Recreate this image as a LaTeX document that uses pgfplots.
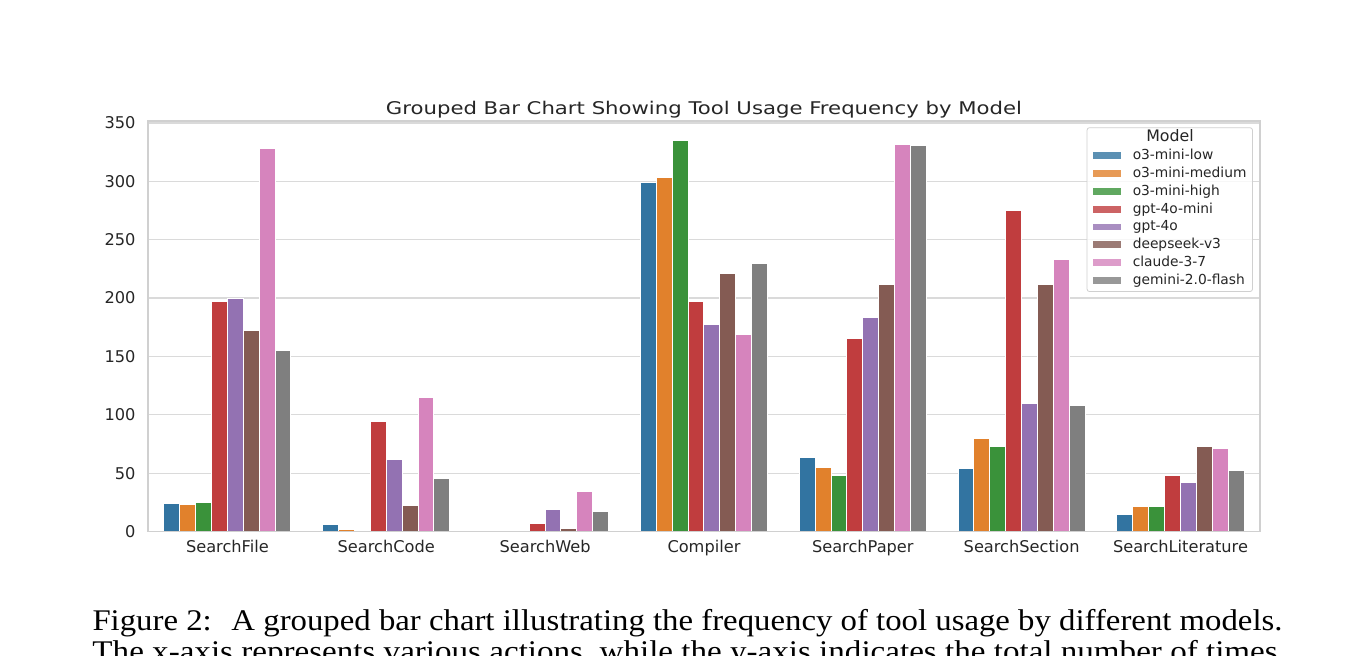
\documentclass[border=0pt]{standalone}
\usepackage{pgfplots}
\pgfplotsset{compat=1.18}
\usepackage{pgfplotstable}
\usepackage{fontspec}
\usepackage{graphicx}
\newfontfamily\dejavu{DejaVu Sans}
\newfontfamily\capfont{Liberation Serif}

\definecolor{cblue}{RGB}{50,116,161}
\definecolor{corange}{RGB}{225,129,44}
\definecolor{cgreen}{RGB}{58,146,58}
\definecolor{cred}{RGB}{192,61,62}
\definecolor{cpurple}{RGB}{147,114,178}
\definecolor{cbrown}{RGB}{132,91,83}
\definecolor{cpink}{RGB}{214,132,189}
\definecolor{cgray}{RGB}{127,127,127}
\definecolor{framegray}{RGB}{208,208,208}
\definecolor{gridgray}{RGB}{218,218,218}
\definecolor{textgray}{RGB}{38,38,38}

\pgfplotstableread{
x  low  med  high mini g4o  ds   claude gem
0  24   23   25   197  200  172  328    155
1  6    2    0    94   62   22   115    45
2  0    0    0    7    19   3    34     17
3  299  303  335  197  177  221  169    230
4  63   55   48   165  183  212  332    331
5  54   80   73   275  110  212  233    108
6  15   21   21   48   42   73   71     52
}\datatable

\pgfplotsset{
  mybar/.style={fill=#1, draw=white, line width=1bp,
    legend image code/.code={\fill[##1, draw=none, sharp corners] (0bp,-2.9bp) rectangle (27.5bp,3.9bp);}},
}

\begin{document}
\begin{tikzpicture}
\path[use as bounding box, clip] (0,0) rectangle (1369bp,-656bp);
\begin{axis}[
  scale only axis,
  width=1112bp, height=410.5bp,
  at={(148bp,-531.5bp)}, anchor=south west,
  xmin=-0.5, xmax=6.5, ymin=0, ymax=351.75,
  ybar, bar width=0.1,
  xtick={0,1,2,3,4,5,6},
  xticklabels={SearchFile,SearchCode,SearchWeb,Compiler,SearchPaper,SearchSection,SearchLiterature},
  ytick={0,50,100,150,200,250,300,350},
  major tick length=0pt,
  ymajorgrids,
  grid style={gridgray, line width=1.3bp},
  axis line style={framegray, line width=1.8bp},
  /pgf/number format/assume math mode=true,
  ticklabel style={font=\dejavu\fontsize{16.2bp}{19bp}\selectfont, text=textgray},
  yticklabel style={anchor=east, inner sep=0pt, xshift=-12.3bp},
  xticklabel style={anchor=base, inner sep=0pt, yshift=-20.5bp},
  every axis title shift=0pt,
  title={\resizebox{636bp}{\height}{Grouped Bar Chart Showing Tool Usage Frequency by Model}},
  title style={font=\dejavu\fontsize{17.5bp}{20bp}\selectfont, text=textgray, anchor=base, inner sep=0pt, yshift=6bp},
  legend cell align=left,
  legend style={
    at={(rel axis cs:0.9937,0.9847)}, anchor=north east,
    draw=framegray, line width=0.8bp, rounded corners=2.5bp,
    fill=white, fill opacity=0.8, text opacity=1,
    font=\dejavu\fontsize{13.8bp}{16bp}\selectfont, text=textgray,
    inner xsep=6bp, inner ysep=4bp,
    row sep=4.86bp, column sep=12.2bp,
    nodes={inner sep=0pt, text height=10bp, text depth=3bp},
  },
]
\addlegendimage{empty legend}
\addlegendentry{\hspace{13.5bp}{\fontsize{15.8bp}{18bp}\selectfont Model}}
\addplot[mybar=cblue,   bar shift=-0.35] table[x=x, y=low]    {\datatable};
\addlegendentry{o3-mini-low}
\addplot[mybar=corange, bar shift=-0.25] table[x=x, y=med]    {\datatable};
\addlegendentry{o3-mini-medium}
\addplot[mybar=cgreen,  bar shift=-0.15] table[x=x, y=high]   {\datatable};
\addlegendentry{o3-mini-high}
\addplot[mybar=cred,    bar shift=-0.05] table[x=x, y=mini]   {\datatable};
\addlegendentry{gpt-4o-mini}
\addplot[mybar=cpurple, bar shift=0.05]  table[x=x, y=g4o]    {\datatable};
\addlegendentry{gpt-4o}
\addplot[mybar=cbrown,  bar shift=0.15]  table[x=x, y=ds]     {\datatable};
\addlegendentry{deepseek-v3}
\addplot[mybar=cpink,   bar shift=0.25]  table[x=x, y=claude] {\datatable};
\addlegendentry{claude-3-7}
\addplot[mybar=cgray,   bar shift=0.35]  table[x=x, y=gem]    {\datatable};
\addlegendentry{gemini-2.0-flash}
\draw[framegray, line width=1.8bp] (rel axis cs:0,0) -- (rel axis cs:1,0);
\end{axis}
\node[anchor=base west, inner sep=0pt] at (92.3bp,-630bp)
  {\resizebox{1190bp}{\height}{\capfont\fontsize{30bp}{33bp}\selectfont Figure 2:\hspace{0.6em}A grouped bar chart illustrating the frequency of tool usage by different models.}};
\node[anchor=base west, inner sep=0pt] at (92.3bp,-661.7bp)
  {\resizebox{1185bp}{\height}{\capfont\fontsize{30bp}{33bp}\selectfont The x-axis represents various actions, while the y-axis indicates the total number of times}};
\end{tikzpicture}
\end{document}
